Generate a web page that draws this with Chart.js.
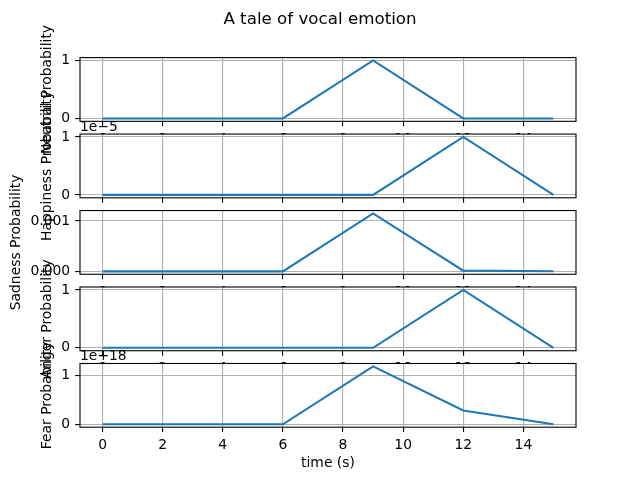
<!DOCTYPE html>
<html>
<head>
<meta charset="utf-8">
<script src="https://cdn.jsdelivr.net/npm/chart.js@4.4.1/dist/chart.umd.min.js"></script>
<style>
    body { margin: 0; background: #fff; }
    #quadro { position: relative; width: 640px; height: 480px; }
    #quadro canvas { position: absolute; left: 0; top: 0; }
    #titulo { position: absolute; left: 0; top: 8px; width: 640px; text-align: center;
              font: 16.7px "DejaVu Sans"; color: #000; line-height: 20px; }
</style>
</head>
<body>
<div id="quadro">
    <canvas id="painel0" width="640" height="480"></canvas>
    <canvas id="painel1" width="640" height="480"></canvas>
    <canvas id="painel2" width="640" height="480"></canvas>
    <canvas id="painel3" width="640" height="480"></canvas>
    <canvas id="painel4" width="640" height="480"></canvas>
    <div id="titulo">A tale of vocal emotion</div>
</div>
<script>
// dados
const tempos = [0, 3, 6, 9, 12, 15];
const neutral = [0, 0, 0, 1, 0, 0];
const happiness = [0, 0, 0, 0, 1e-5, 0];
const sadness = [0, 0, 0, 0.00115, 0.000015, 0.000003];
const anger = [0, 0, 0, 0, 1, 0];
const fear = [0, 0, 0, 1.18e18, 0.28e18, 0];

const xTicks = [0, 2, 4, 6, 8, 10, 12, 14];
const xTitulo = 'time (s)';

const nomes = ['Neutral Probability', 'Happiness Probability', 'Sadness Probability', 'Anger Probability', 'Fear Probability'];
const yTicksValores = [[0, 1], [0, 1e-5], [0, 0.001], [0, 1], [0, 1e18]];
const yTicksTextos = [['0', '1'], ['0', '1'], ['0.000', '0.001'], ['0', '1'], ['0', '1']];
const offsets = ['', '1e\u22125', '', '', '1e+18'];
const series = [neutral, happiness, sadness, anger, fear];

Chart.defaults.color = '#000';
Chart.defaults.font.family = '"DejaVu Sans"';
Chart.defaults.font.size = 13.9;

// posicoes das caixas (como subplots do matplotlib)
const W = 640, H = 480;
const esq = 80, dir = 576;
const topo = 0.88 * H, base = 0.11 * H;
const altura = (base - topo) / -1;
const h = (H * 0.88 - H * 0.11) / 5.8;
const gap = 0.2 * h;

function intervalo(valores) {
    const mn = Math.min(...valores), mx = Math.max(...valores);
    const m = (mx - mn) * 0.05;
    return [mn - m, mx + m];
}

const molduraPlugin = {
    id: 'moldura',
    beforeDraw(chart) {
        const a = chart.chartArea, ctx = chart.ctx;
        ctx.save();
        ctx.fillStyle = '#fff';
        ctx.fillRect(a.left, a.top, a.right - a.left, a.bottom - a.top);
        ctx.restore();
    },
    afterDraw(chart, args, opts) {
        const a = chart.chartArea, ctx = chart.ctx;
        ctx.save();
        ctx.strokeStyle = '#000';
        ctx.lineWidth = 1.1;
        ctx.strokeRect(a.left, a.top, a.right - a.left, a.bottom - a.top);
        if (opts.texto) {
            ctx.fillStyle = '#000';
            ctx.font = '13.9px "DejaVu Sans"';
            ctx.textAlign = 'left';
            ctx.textBaseline = 'alphabetic';
            ctx.fillText(opts.texto, a.left, a.top - 3.5);
        }
        ctx.restore();
    }
};

for (let i = 0; i < 5; i++) {
    const pTop = H * (1 - 0.88) + i * (h + gap);
    const pBottom = pTop + h;
    const [ymin, ymax] = intervalo(series[i]);
    const ultimo = i === 4;

    new Chart(document.getElementById('painel' + i), {
        type: 'line',
        data: {
            datasets: [{
                data: tempos.map((t, k) => ({ x: t, y: series[i][k] })),
                borderColor: '#1f77b4',
                borderWidth: 2.08,
                pointRadius: 0,
                tension: 0,
                fill: false
            }]
        },
        options: {
            responsive: false,
            animation: false,
            devicePixelRatio: 1,
            layout: { padding: { left: 0, right: W - dir, top: pTop, bottom: 0 } },
            plugins: {
                legend: { display: false },
                tooltip: { enabled: false },
                moldura: { texto: offsets[i] }
            },
            scales: {
                x: {
                    type: 'linear',
                    min: -0.75,
                    max: 15.75,
                    afterBuildTicks: s => { s.ticks = xTicks.map(v => ({ value: v })); },
                    afterFit: s => { s.height = H - pBottom; },
                    ticks: { padding: 4.9, maxRotation: 0, autoSkip: false, callback: v => String(v) },
                    grid: { color: '#b0b0b0', lineWidth: 1.1, tickColor: '#000', tickLength: 4.9 },
                    border: { display: false },
                    title: { display: ultimo, text: xTitulo, padding: { top: 0, bottom: 8.6 } }
                },
                y: {
                    type: 'linear',
                    min: ymin,
                    max: ymax,
                    afterBuildTicks: s => { s.ticks = yTicksValores[i].map(v => ({ value: v })); },
                    afterFit: s => { s.width = esq; },
                    ticks: { padding: 4.9, autoSkip: false, callback: (v, k) => yTicksTextos[i][k] },
                    grid: { color: '#b0b0b0', lineWidth: 1.1, tickColor: '#000', tickLength: 4.9 },
                    border: { display: false },
                    title: { display: true, text: nomes[i], padding: { top: i === 2 ? 8.3 : 39, bottom: 0 } }
                }
            }
        },
        plugins: [molduraPlugin]
    });
}
</script>
</body>
</html>
